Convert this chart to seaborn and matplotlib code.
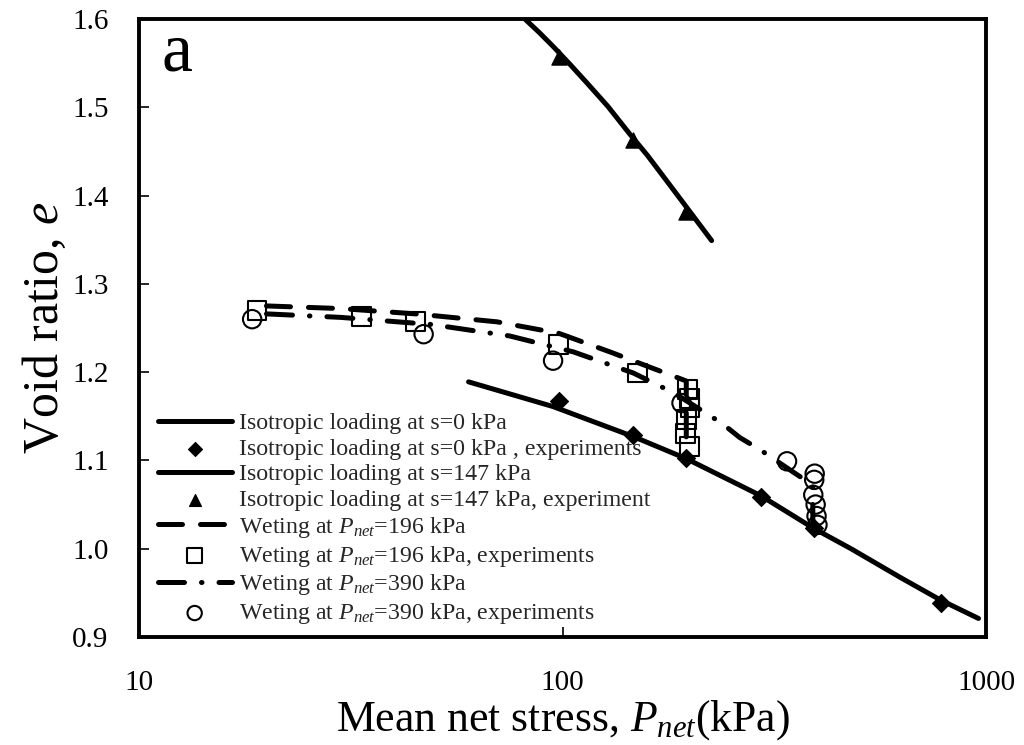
import matplotlib
matplotlib.use("Agg")
import matplotlib.pyplot as plt
import seaborn as sns
import pandas as pd

# ---------------- data ----------------
# Isotropic loading at s=0 kPa (model)
s0_model_p = [60, 95, 147, 196, 294, 392, 480, 630, 780, 960]
s0_model_e = [1.189, 1.161, 1.127, 1.102, 1.060, 1.023, 1.000, 0.967, 0.942, 0.921]
# Isotropic loading at s=0 kPa (experiments)
s0_exp_p = [98, 147, 196, 294, 392, 784]
s0_exp_e = [1.167, 1.129, 1.103, 1.059, 1.024, 0.939]
# Isotropic loading at s=147 kPa (model)
s147_model_p = [81.5, 88, 95, 104, 114, 128, 144, 159, 176, 199, 225]
s147_model_e = [1.600, 1.585, 1.569, 1.549, 1.528, 1.501, 1.470, 1.445, 1.417, 1.383, 1.349]
# Isotropic loading at s=147 kPa (experiment)
s147_exp_p = [98, 147, 196]
s147_exp_e = [1.557, 1.463, 1.381]
# Wetting at Pnet=196 kPa (model)
w196_model_p = [20, 30, 45, 70, 98, 131, 158, 196, 196]
w196_model_e = [1.275, 1.272, 1.266, 1.257, 1.244, 1.222, 1.207, 1.190, 1.103]
# Wetting at Pnet=196 kPa (experiments)
w196_exp_p = [19, 33.5, 45, 98, 150, 197, 199, 200, 196, 195, 199]
w196_exp_e = [1.270, 1.263, 1.257, 1.231, 1.199, 1.180, 1.170, 1.160, 1.146, 1.131, 1.116]
# Wetting at Pnet=390 kPa (model)
w390_model_p = [20, 30, 49, 75, 106, 147, 184, 203, 238, 262, 293, 350, 390, 390]
w390_model_e = [1.266, 1.262, 1.254, 1.241, 1.223, 1.199, 1.176, 1.163, 1.142, 1.126, 1.112, 1.087, 1.072, 1.024]
# Wetting at Pnet=390 kPa (experiments)
w390_exp_p = [18.5, 47, 95, 191, 339, 394, 393, 391, 396, 398, 400]
w390_exp_e = [1.260, 1.243, 1.213, 1.165, 1.099, 1.085, 1.078, 1.061, 1.050, 1.037, 1.027]

x_ticks = [10, 100, 1000]
x_tick_labels = ["10", "100", "1000"]
y_ticks = [0.9, 1.0, 1.1, 1.2, 1.3, 1.4, 1.5, 1.6]
y_tick_labels = ["0.9", "1.0", "1.1", "1.2", "1.3", "1.4", "1.5", "1.6"]

# ---------------- style ----------------
sns.set_theme(style="white")
plt.rcParams["font.family"] = ["Liberation Serif", "DejaVu Serif"]
plt.rcParams["mathtext.fontset"] = "custom"
plt.rcParams["mathtext.rm"] = "Liberation Serif"
plt.rcParams["mathtext.it"] = "Liberation Serif:italic"

fig = plt.figure(figsize=(10.24, 7.45), dpi=100)
ax = fig.add_axes([139 / 1024, 1 - 637 / 745, (986 - 139) / 1024, (637 - 19) / 745])

LW = 3.6

def df(p, e):
    return pd.DataFrame({"p": p, "e": e})

sns.lineplot(data=df(s0_model_p, s0_model_e), x="p", y="e", sort=False, estimator=None,
             color="black", lw=LW, solid_capstyle="round", ax=ax,
             label="Isotropic loading at s=0 kPa")
sns.scatterplot(data=df(s0_exp_p, s0_exp_e), x="p", y="e", marker="D", s=85,
                color="black", edgecolor="black", ax=ax,
                label="Isotropic loading at s=0 kPa , experiments")
sns.lineplot(data=df(s147_model_p, s147_model_e), x="p", y="e", sort=False, estimator=None,
             color="black", lw=LW, solid_capstyle="round", ax=ax,
             label="Isotropic loading at s=147 kPa")
sns.scatterplot(data=df(s147_exp_p, s147_exp_e), x="p", y="e", marker="^", s=120,
                color="black", edgecolor="black", ax=ax,
                label="Isotropic loading at s=147 kPa, experiment")
sns.lineplot(data=df(w196_model_p, w196_model_e), x="p", y="e", sort=False, estimator=None,
             color="black", lw=LW, linestyle=(0, (4.8, 3.6)), dash_capstyle="round", ax=ax,
             label="Weting at $P_{net}$=196 kPa")
sns.scatterplot(data=df(w196_exp_p, w196_exp_e), x="p", y="e", marker="s", s=185,
                facecolor="none", edgecolor="black", linewidth=1.5, ax=ax,
                label="Weting at $P_{net}$=196 kPa, experiments")
sns.lineplot(data=df(w390_model_p, w390_model_e), x="p", y="e", sort=False, estimator=None,
             color="black", lw=LW, linestyle=(0, (5.2, 3.4, 0.1, 3.4)), dash_capstyle="round", ax=ax,
             label="Weting at $P_{net}$=390 kPa")
sns.scatterplot(data=df(w390_exp_p, w390_exp_e), x="p", y="e", marker="o", s=175,
                facecolor="none", edgecolor="black", linewidth=1.5, ax=ax,
                label="Weting at $P_{net}$=390 kPa, experiments")

ax.collections[2].set_facecolor("none")
ax.collections[3].set_facecolor("none")

ax.set_xscale("log")
ax.set_xlim(10, 1000)
ax.set_ylim(0.9, 1.6)
ax.set_xticks(x_ticks)
ax.set_xticklabels(x_tick_labels)
ax.set_yticks(y_ticks)
ax.set_yticklabels(y_tick_labels)
ax.minorticks_off()
ax.tick_params(axis="both", direction="in", length=7, width=1.2, labelsize=21,
               colors="black", left=True, bottom=True, top=False, right=False)
ax.tick_params(axis="y", pad=22)
ax.tick_params(axis="x", pad=24)

for sp in ax.spines.values():
    sp.set_visible(True)
    sp.set_color("black")
    sp.set_linewidth(2.8)

ax.set_xlabel("Mean net stress, $P_{net}$(kPa)", fontsize=31.5, color="black", labelpad=1)
ax.set_ylabel("Void ratio, $e$", fontsize=36, color="black", labelpad=2)

ax.text(0.026, 0.995, "a", transform=ax.transAxes, fontsize=50, va="top", ha="left", color="black")

leg = ax.legend(loc="upper left", bbox_to_anchor=(0.022, 0.363), frameon=False,
                fontsize=17.2, handlelength=3.1, handletextpad=0.3, labelspacing=0.16,
                borderpad=0, borderaxespad=0, markerscale=0.78)

fig.savefig("out.png", dpi=100)
